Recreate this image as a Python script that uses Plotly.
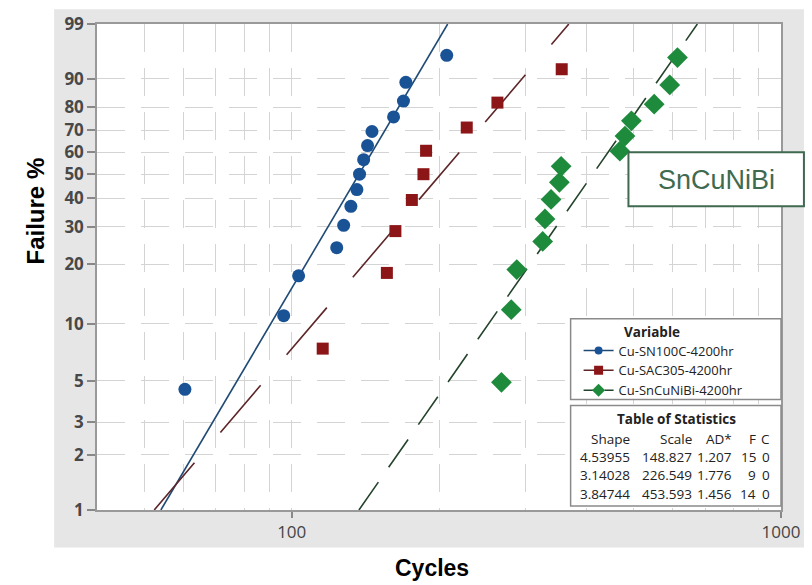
import numpy as np
import plotly.graph_objects as go

# ---------------- data ----------------
blue_name = "Cu-SN100C-4200hr"
blue_cycles = [60.5, 96.3, 103.3, 123.6, 127.7, 132.1, 135.9, 137.6, 140.3, 142.9, 145.9, 161.5, 169.2, 171.1, 207.4]
blue_pct = [4.5, 11.0, 17.5, 24.0, 30.5, 37.0, 43.5, 50.0, 56.5, 63.0, 69.5, 76.0, 82.5, 89.0, 95.5]

red_name = "Cu-SAC305-4200hr"
red_cycles = [115.7, 156.5, 162.9, 176.0, 185.9, 188.2, 227.9, 263.3, 356.3]
red_pct = [7.4, 18.1, 28.7, 39.4, 50.0, 60.6, 71.3, 81.9, 92.6]

green_name = "Cu-SnCuNiBi-4200hr"
green_cycles = [268.3, 281.0, 288.4, 325.8, 329.3, 338.9, 352.4, 355.3, 468.5, 479.8, 494.6, 550.6, 592.4, 614.3]
green_pct = [4.9, 11.8, 18.8, 25.7, 32.6, 39.6, 46.5, 53.5, 60.4, 67.4, 74.3, 81.3, 88.2, 95.1]

# Table of Statistics (Weibull fits)
stat_shape = ["4.53955", "3.14028", "3.84744"]
stat_scale = ["148.827", "226.549", "453.593"]
stat_ad = ["1.207", "1.776", "1.456"]
stat_f = ["15", "9", "14"]
stat_c = ["0", "0", "0"]

y_ticks = [1, 2, 3, 5, 10, 20, 30, 40, 50, 60, 70, 80, 90, 99]
x_major = [100, 1000]
x_minor = [50, 60, 70, 80, 90, 200, 300, 400, 500, 600, 700, 800, 900]
fit_pct_range = [1, 99]

# ---------------- geometry helpers ----------------
W, H = 812, 585
L, R, T, B = 97, 29, 17, 75
pw, ph = W - L - R, H - T - B


def px(x):
    return (x - L) / pw


def py(y):
    return 1 - (y - T) / ph


def wb(p):
    """Weibull probability-scale transform of a percentage."""
    p = np.asarray(p, dtype=float) / 100.0
    return np.log(-np.log(1 - p))


BLUE, RED, GREEN = "#1a5296", "#8c1518", "#1e8a3c"
BLUE_L, RED_L, GREEN_L = "#1f4a75", "#5e2628", "#24432c"
MINI = "Open Sans"

fig = go.Figure()

series = [
    (blue_name, blue_cycles, blue_pct, BLUE, BLUE_L, "circle", 13, "solid", 0),
    (red_name, red_cycles, red_pct, RED, RED_L, "square", 12, "62px,40px", 1),
    (green_name, green_cycles, green_pct, GREEN, GREEN_L, "diamond", 16, "34px,18px", 2),
]
# fitted Weibull lines from the table parameters
for name, cx, cp, col, lcol, sym, size, dash, i in series:
    beta = float(stat_shape[i])
    eta = float(stat_scale[i])
    wy = wb(fit_pct_range)
    fx = eta * np.exp(wy / beta)
    fig.add_trace(go.Scatter(x=fx, y=wy, mode="lines", showlegend=False,
                             line=dict(color=lcol, width=1.6, dash=dash), hoverinfo="skip"))

for name, cx, cp, col, lcol, sym, size, dash, i in series:
    fig.add_trace(go.Scatter(x=cx, y=wb(cp), mode="markers", showlegend=False, name=name,
                             marker=dict(symbol=sym, size=size, color=col,
                                         line=dict(width=0))))

# legend-only entries
leg_dash = ["solid", "solid", "16px,5px"]
leg_size = [8, 9, 10]
for (name, cx, cp, col, lcol, sym, size, dash, i) in series:
    fig.add_trace(go.Scatter(x=[None], y=[None], mode="lines+markers", name=name,
                             line=dict(color=lcol, width=1.5, dash=leg_dash[i]),
                             marker=dict(symbol=sym, size=leg_size[i], color=col)))

shapes = [
    dict(type="rect", xref="paper", yref="paper", x0=px(54), x1=px(806), y0=py(548), y1=py(2),
         fillcolor="#e6e6e6", line=dict(width=0), layer="below"),
    dict(type="rect", xref="paper", yref="paper", x0=0, x1=1, y0=0, y1=1,
         fillcolor="white", line=dict(width=0), layer="below"),
    dict(type="rect", xref="paper", yref="paper", x0=px(572), x1=px(783), y0=py(398), y1=py(316),
         fillcolor="white", line=dict(color="#8a8a8a", width=1.5), layer="above"),
    dict(type="rect", xref="paper", yref="paper", x0=px(572), x1=px(783), y0=py(506), y1=py(404),
         fillcolor="white", line=dict(color="#8a8a8a", width=1.5), layer="above"),
    dict(type="rect", xref="paper", yref="paper", x0=px(630), x1=px(806), y0=py(202), y1=py(147),
         fillcolor="white", line=dict(color="#3f6a50", width=2), layer="above"),
]

ann = []


def txt(s, x, y, size=14, color="#222", xanchor="center", family=MINI, angle=0):
    ann.append(dict(text=s, x=px(x), y=py(y), xref="paper", yref="paper", showarrow=False,
                    xanchor=xanchor, yanchor="middle", textangle=angle,
                    font=dict(family=family, size=size, color=color)))


txt("<b>Failure %</b>", 35, 207, size=24, color="#000", family="Arial, Liberation Sans", angle=-90)
txt("<b>Cycles</b>", 433, 569, size=23, color="#000", family="Arial, Liberation Sans")
txt("SnCuNiBi", 718, 175, size=27, color="#3f6a50", family="Arial, Liberation Sans")
txt("<b>Variable</b>", 624, 329, size=13.5, xanchor="left")
txt("<b>Table of Statistics</b>", 678, 418, size=13.5)

col_right = [634, 696, 736, 760, 774]
headers = ["Shape", "Scale", "AD*", "F", "C"]
for h, xr in zip(headers, col_right):
    txt(h, xr, 438, size=13.5, xanchor="right")
row_y = [456, 475, 494]
for r in range(3):
    vals = [stat_shape[r], stat_scale[r], stat_ad[r], stat_f[r], stat_c[r]]
    for v, xr in zip(vals, col_right):
        txt(v, xr, row_y[r], size=13.5, xanchor="right")

fig.update_layout(
    width=W, height=H,
    margin=dict(l=L, r=R, t=T, b=B, pad=0),
    paper_bgcolor="white", plot_bgcolor="white",
    shapes=shapes, annotations=ann,
    showlegend=True,
    legend=dict(x=px(580), y=py(333), xanchor="left", yanchor="top",
                bgcolor="rgba(0,0,0,0)", borderwidth=0,
                font=dict(family=MINI, size=13, color="#222"),
                tracegroupgap=0),
    xaxis=dict(type="log", range=[np.log10(40), 3],
               tickvals=x_major, ticktext=[str(v) for v in x_major],
               ticks="outside", ticklen=6, tickcolor="#888", tickwidth=1.5,
               tickfont=dict(family=MINI, size=17, color="#444"),
               showgrid=True, gridcolor="#d4d4d4", gridwidth=1, griddash="28px,16px",
               minor=dict(tickvals=x_minor, showgrid=True, gridcolor="#d4d4d4",
                          gridwidth=1, griddash="28px,16px", ticks=""),
               showline=True, linecolor="#999", linewidth=1.5, mirror=True,
               zeroline=False),
    yaxis=dict(range=[float(wb(1)), float(wb(99))],
               tickvals=[float(v) for v in wb(y_ticks)], ticktext=[str(v) for v in y_ticks],
               ticks="outside", ticklen=8, tickcolor="#888", tickwidth=1.5,
               tickfont=dict(family=MINI, size=17, color="#484848", weight="bold"),
               showgrid=True, gridcolor="#d4d4d4", gridwidth=1, griddash="28px,16px",
               showline=True, linecolor="#999", linewidth=1.5, mirror=True,
               zeroline=False),
)

fig.write_html("out.html")
